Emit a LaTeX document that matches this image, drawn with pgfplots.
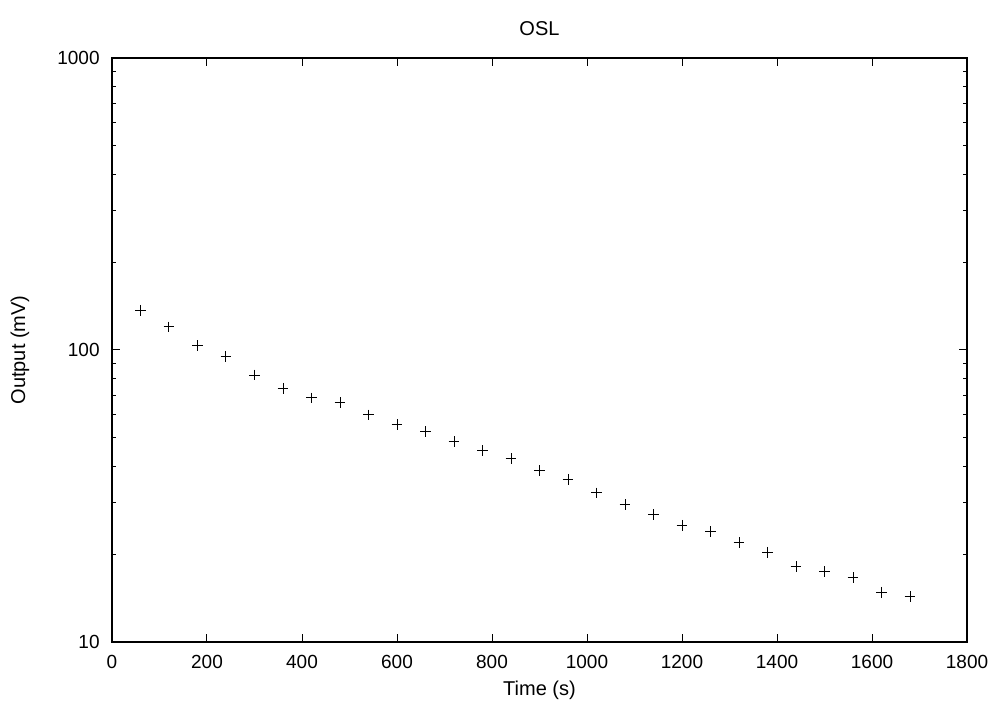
\documentclass[border=0pt]{standalone}
\usepackage{pgfplots}
\pgfplotsset{compat=1.18}
\usepackage{fontspec}
\setmainfont{Liberation Sans}
\begin{document}
\begin{tikzpicture}
\begin{axis}[
  name=ax, at={(0,0)}, anchor=south west,
  scale only axis, width=427.5pt, height=292pt,
  xmin=0, xmax=1800, ymin=10, ymax=1000,
  ymode=log,
  xtick={0,200,...,1800},
  ytick={10,100,1000}, yticklabels={10,100,1000},
  minor xtick={},
  tick align=inside,
  major tick length=4pt, minor tick length=2pt,
  axis line style={line width=0.6pt},
  every tick/.style={line width=0.5pt, black},
  /pgf/number format/assume math mode=true,
  scaled x ticks=false,
  xticklabel style={anchor=center, inner sep=0pt, yshift=-9.8pt, /pgf/number format/1000 sep={}},
  yticklabel style={anchor=east, inner sep=0pt, xshift=-6pt},
  tick label style={font=\fontsize{9.5}{11}\selectfont},
  label style={font=\fontsize{9.5}{11}\selectfont},
  title style={font=\fontsize{9.5}{11}\selectfont},
  title={OSL},
  every axis title/.style={at={(axis description cs:0.5,1.0497)}, anchor=center},
  xlabel={Time (s)},
  every axis x label/.style={at={(axis description cs:0.5,-0.0822)}, anchor=center},
  ylabel={Output (mV)},
  every axis y label/.style={at={(axis description cs:-0.1076,0.5)}, anchor=center, rotate=90},
]
\addplot[only marks, mark=+, mark size=2.7pt, line width=0.5pt, black] coordinates {
(60,136.7) (120,119.9) (180,103.4) (240,95.1) (300,82.1) (360,73.9)
(420,68.5) (480,66.1) (540,59.9) (600,55.4) (660,52.6) (720,48.5)
(780,45.2) (840,42.5) (900,38.6) (960,36.1) (1020,32.4) (1080,29.5)
(1140,27.3) (1200,25.1) (1260,23.9) (1320,21.9) (1380,20.3) (1440,18.1)
(1500,17.4) (1560,16.6) (1620,14.8) (1680,14.3)
};
\end{axis}
\pgfresetboundingbox
\useasboundingbox (-56pt,-29.5pt) rectangle (444.5pt,321pt);
\end{tikzpicture}
\end{document}
